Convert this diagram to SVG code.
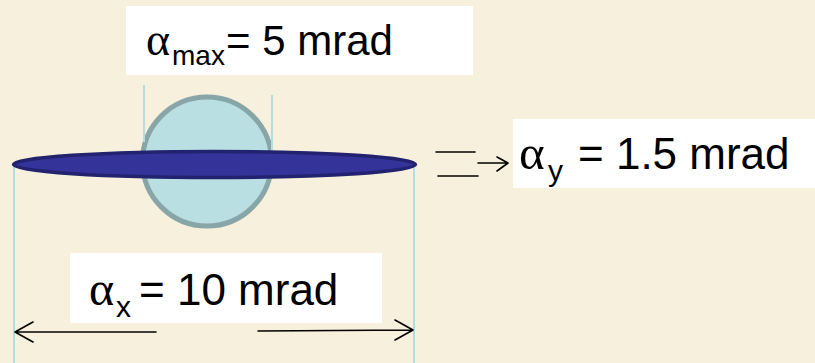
<svg xmlns="http://www.w3.org/2000/svg" width="815" height="363" viewBox="0 0 815 363">
<style>
.box{fill:#ffffff}
.t{font-family:"Liberation Sans",Arial,sans-serif;fill:#000}
.g{font-family:"Liberation Serif","Times New Roman",serif}
.guide{stroke:#B5DDE0;stroke-width:2;fill:none}
.ar{stroke:#000;stroke-width:1.6;fill:none;stroke-linecap:round;stroke-linejoin:round}
</style>
<rect width="815" height="363" fill="#F7F0DC"/>
<g id="guides">
<line class="guide" x1="14" y1="164" x2="14" y2="363"/>
<line class="guide" x1="414" y1="164" x2="414" y2="363"/>
</g>
<g id="circle-beam">
<circle cx="207" cy="161.5" r="64.5" fill="#BADFE2" stroke="#88A5A8" stroke-width="5"/>
<line class="guide" x1="144" y1="85" x2="144" y2="142"/>
<line class="guide" x1="272" y1="95" x2="272" y2="152"/>
</g>
<g id="ellipse-beam">
<ellipse cx="214.5" cy="164.5" rx="201" ry="13" fill="#333399" stroke="#22226F" stroke-width="3.5"/>
</g>
<g id="label-max">
<rect class="box" x="126" y="6" width="347" height="69"/>
<text class="t" y="55" font-size="42"><tspan class="g" x="146" font-size="46">α</tspan><tspan x="172" y="65" font-size="28">max</tspan><tspan x="226" y="55">= 5 mrad</tspan></text>
</g>
<g id="label-y">
<rect class="box" x="513" y="119" width="302" height="69"/>
<text class="t" y="169" font-size="44"><tspan class="g" x="519" font-size="49">α</tspan><tspan x="548" y="181" font-size="30">y</tspan><tspan x="578" y="169">= 1.5 mrad</tspan></text>
</g>
<g id="label-x">
<rect class="box" x="70" y="253" width="312" height="70"/>
<text class="t" y="305" font-size="44"><tspan class="g" x="89" font-size="48">α</tspan><tspan x="116" y="317" font-size="30">x</tspan><tspan x="139" y="305">= 10 mrad</tspan></text>
</g>
<g id="connectors">
<line class="ar" x1="436" y1="152" x2="475" y2="152"/>
<line class="ar" x1="438" y1="176" x2="478" y2="176"/>
<path class="ar" d="M478 163 L508 163 M497 157 L508 163 L497 171"/>
<path class="ar" d="M156 332 L15 332 M33 322 L15 332 L33 342"/>
<path class="ar" d="M258 331 L413 330 M395 320 L413 330 L395 340"/>
</g>
</svg>
